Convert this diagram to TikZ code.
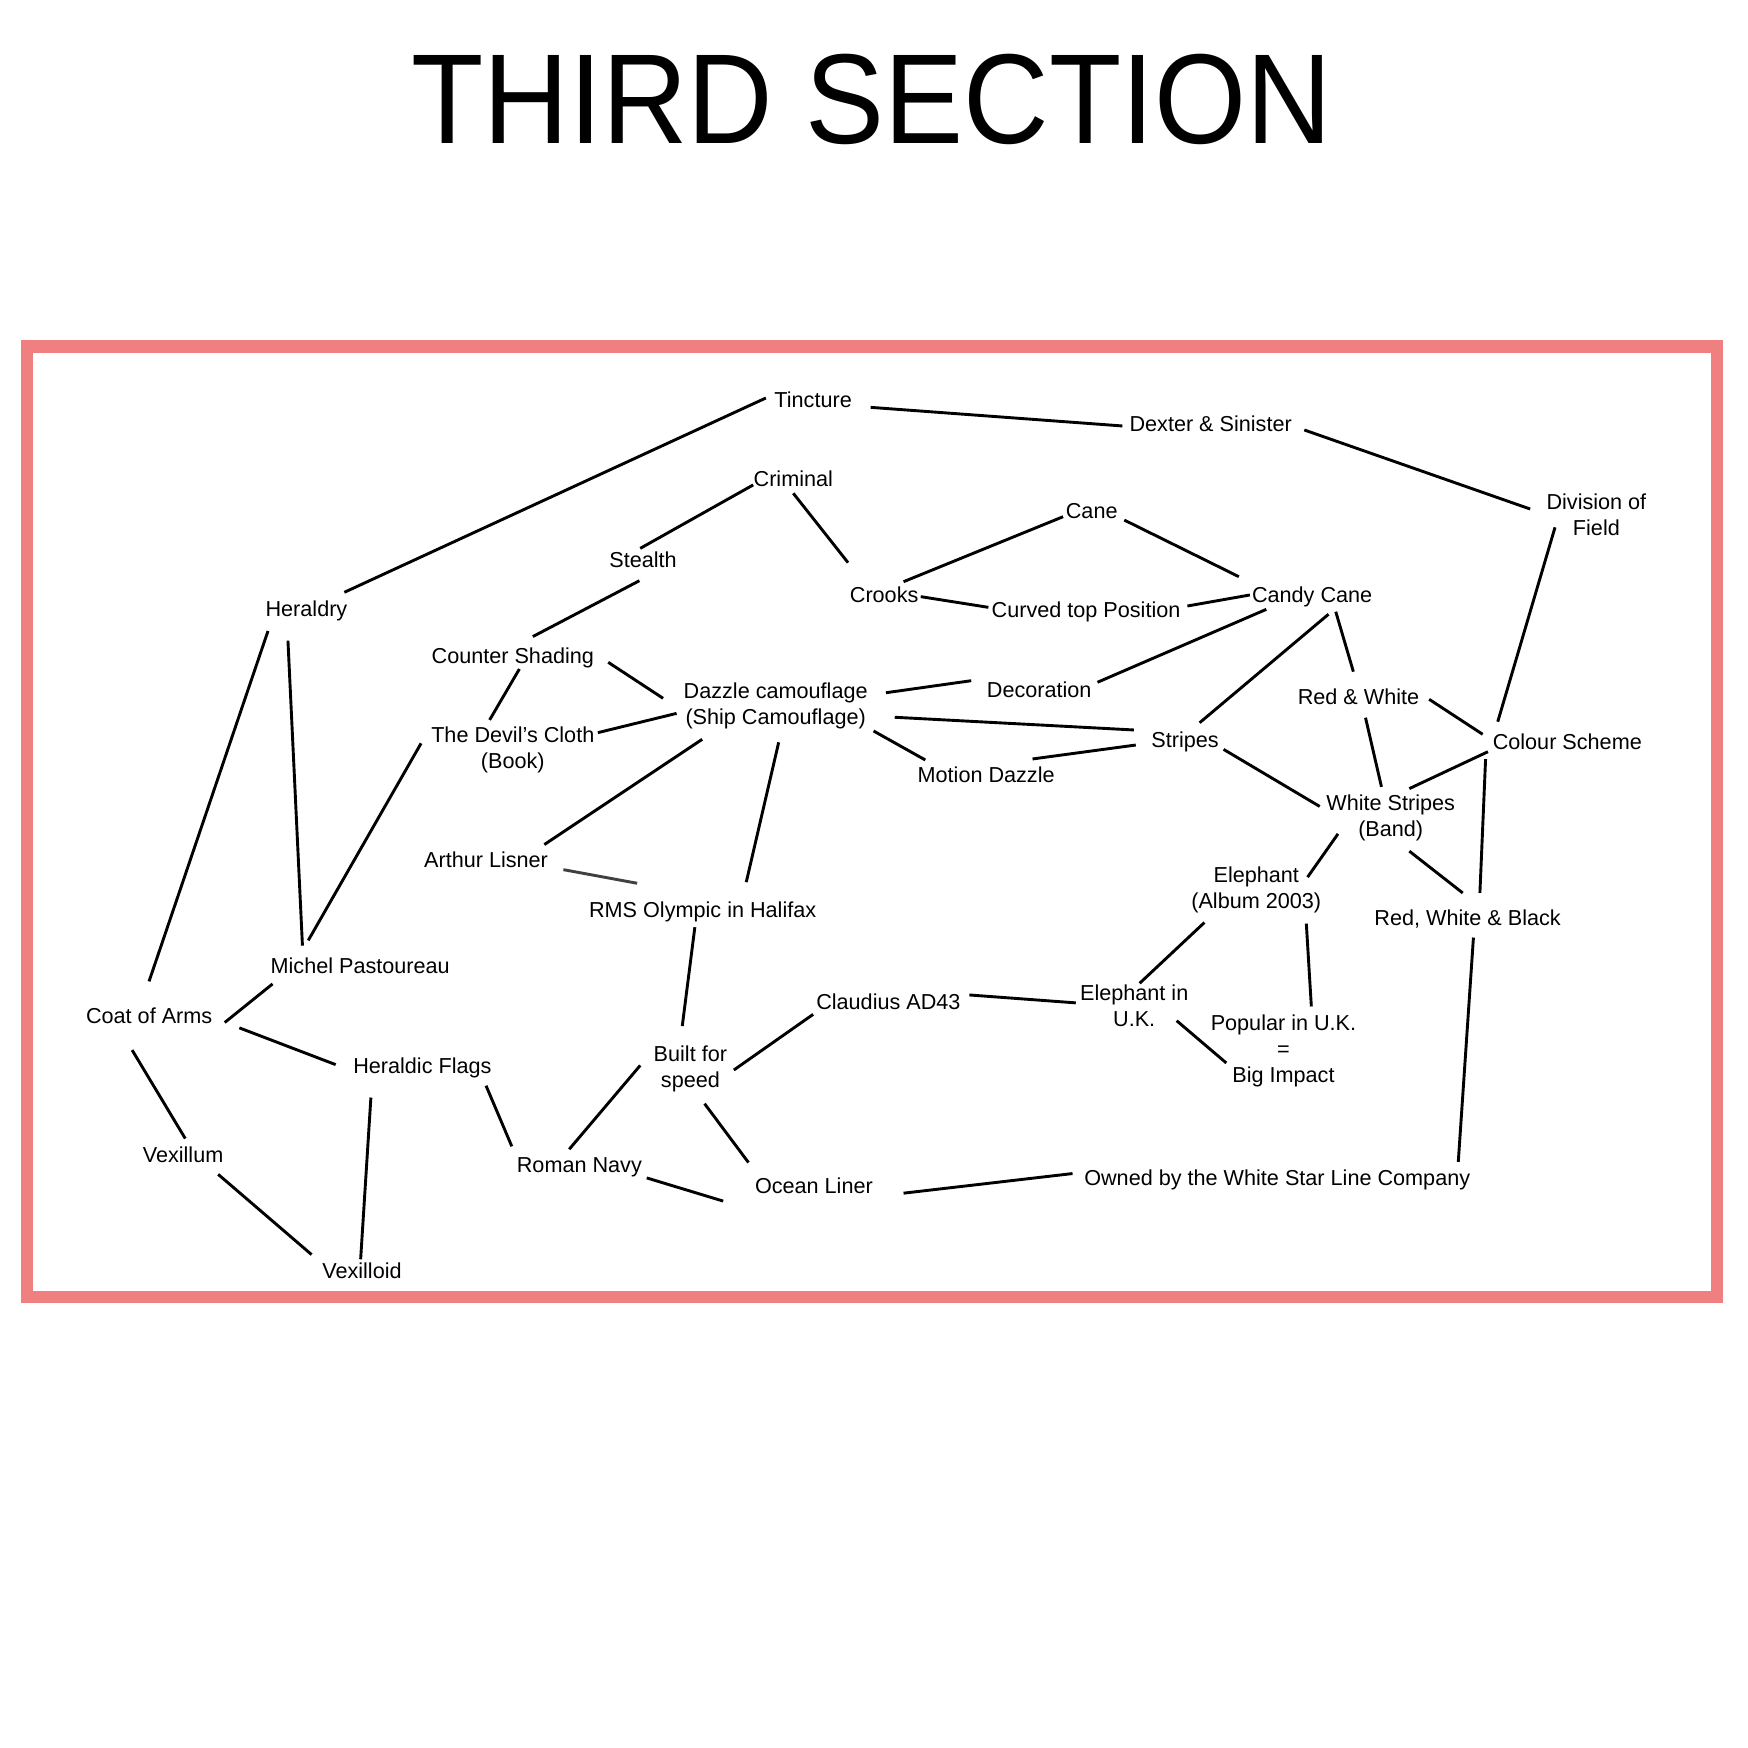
\documentclass[tikz,border=0pt]{standalone}
\usepackage{fontspec}
\setmainfont{Liberation Sans}
\usetikzlibrary{calc}
\definecolor{framered}{RGB}{240,128,128}
\definecolor{linegray}{RGB}{64,64,64}
\begin{document}
\begin{tikzpicture}[x=1pt,y=-1pt,
  lbl/.style={font=\fontsize{19.4}{23.3}\selectfont, align=center, inner sep=0pt},
  sl/.style={lbl, text height=14pt, text depth=0pt},
  ln/.style={line width=2.6pt, black},
  lngray/.style={line width=2.6pt, linegray}]
\useasboundingbox (0,0) rectangle (1568,1568);
\fill[white] (0,0) rectangle (1568,1568);
\node[anchor=base, inner sep=0pt, font=\fontsize{114.8}{120}\selectfont] (title) at (782,129) {\scalebox{0.925}[1]{THIRD SECTION}};
\draw[framered, line width=11pt] (24.5,310.7) rectangle (1540,1163.5);

\node[sl] (tin) at (729.4,358.8) {Tincture};
\node[sl] (dex) at (1086,379.7) {Dexter \& Sinister};
\node[sl] (cri) at (711.6,429.7) {Criminal};
\node[lbl] (div) at (1432,462) {Division of\\Field};
\node[sl] (cane) at (979.3,458.4) {Cane};
\node[sl] (ste) at (576.8,502.3) {Stealth};
\node[sl] (cro) at (793.1,533.1) {Crooks};
\node[sl] (cc) at (1177,533.7) {Candy Cane};
\node[sl] (her) at (274.9,545.7) {Heraldry};
\node[sl] (cur) at (974.2,547.2) {Curved top Position};
\node[sl] (cs) at (460,588.5) {Counter Shading};
\node[sl] (dec) at (932.2,618.3) {Decoration};
\node[lbl] (daz) at (695.8,633) {Dazzle camouflage\\(Ship Camouflage)};
\node[sl] (rw) at (1218.6,625) {Red \& White};
\node[lbl] (dev) at (460,672.6) {The Devil’s Cloth\\(Book)};
\node[sl] (str) at (1063,663.8) {Stripes};
\node[sl] (col) at (1405.9,665.3) {Colour Scheme};
\node[sl] (mot) at (884.6,695.2) {Motion Dazzle};
\node[lbl] (ws) at (1247.5,734) {White Stripes\\(Band)};
\node[sl] (art) at (436,770.8) {Arthur Lisner};
\node[lbl] (ele) at (1126.9,798.5) {Elephant\\(Album 2003)};
\node[sl] (rms) at (630.3,815.6) {RMS Olympic in Halifax};
\node[sl] (rwb) at (1316.5,823.6) {Red, White \& Black};
\node[sl] (mic) at (323.1,866) {Michel Pastoureau};
\node[lbl] (euk) at (1017.4,902.6) {Elephant in\\U.K.};
\node[sl] (cla) at (796.9,898.9) {Claudius AD43};
\node[sl] (coa) at (133.8,910.8) {Coat of Arms};
\node[lbl] (pop) at (1151.3,943) {Popular in U.K.\\=\\Big Impact};
\node[lbl] (bui) at (619.3,958.4) {Built for\\speed};
\node[sl] (hf) at (378.9,956.3) {Heraldic Flags};
\node[sl] (vxm) at (164.2,1035.7) {Vexillum};
\node[sl] (rom) at (519.7,1044.7) {Roman Navy};
\node[sl] (own) at (1145.7,1056.6) {Owned by the White Star Line Company};
\node[sl] (oce) at (730.1,1063.6) {Ocean Liner};
\node[sl] (vxd) at (324.7,1139.9) {Vexilloid};

\draw[ln] ($(her)+(34,-14.4)$) -- ($(tin)+(-42.4,-1.8)$);
\draw[ln] ($(tin)+(51.6,6.6)$) -- ($(dex)+(-79.2,2.4)$);
\draw[ln] ($(dex)+(84,6)$) -- ($(div)+(-59.4,-5.4)$);
\draw[ln] ($(cri)+(-36,5.3)$) -- ($(ste)+(-2.5,-10.4)$);
\draw[ln] ($(cri)+(0,12.8)$) -- ($(cro)+(-32.4,-28.4)$);
\draw[ln] ($(cro)+(17.4,-11.3)$) -- ($(cane)+(-25.7,5.1)$);
\draw[ln] ($(cane)+(29.2,8.1)$) -- ($(cc)+(-65.7,-16.4)$);
\draw[ln] ($(cro)+(32.8,2.1)$) -- ($(cur)+(-87.6,-2.4)$);
\draw[ln] ($(cur)+(90.9,-3.6)$) -- ($(cc)+(-55.8,0)$);
\draw[ln] ($(ste)+(-3.2,18.6)$) -- ($(cs)+(18,-17.5)$);
\draw[ln] ($(div)+(-37.1,11)$) -- ($(col)+(-62.4,-17.9)$);
\draw[ln] ($(dec)+(52.3,-6.3)$) -- ($(cc)+(-41.1,12.9)$);
\draw[ln] ($(str)+(13.1,-15.5)$) -- ($(cc)+(14.7,17.3)$);
\draw[ln] ($(cc)+(21.2,15)$) -- ($(rw)+(-4.6,-22.5)$);
\draw[ln] ($(rw)+(63.4,2.3)$) -- ($(col)+(-75.9,-6.6)$);
\draw[ln] ($(rw)+(6.3,18.8)$) -- ($(ws)+(-8.3,-28.2)$);
\draw[ln] ($(col)+(-71.2,9)$) -- ($(ws)+(16.7,-26.6)$);
\draw[ln] ($(col)+(-73.3,15.6)$) -- ($(rwb)+(11,-22.6)$);
\draw[ln] ($(str)+(34.6,8.4)$) -- ($(ws)+(-63.7,-10.6)$);
\draw[ln] ($(ws)+(16.7,29.5)$) -- ($(rwb)+(-4.4,-22.6)$);
\draw[ln] ($(ws)+(-47.3,14)$) -- ($(ele)+(46,-11.7)$);
\draw[ln] ($(cs)+(85.6,5.6)$) -- ($(daz)+(-101,-6.6)$);
\draw[ln] ($(cs)+(5.9,11.6)$) -- ($(dev)+(-20.8,-26.8)$);
\draw[ln] ($(her)+(-34.5,20.3)$) -- ($(coa)+(-0.1,-30.5)$);
\draw[ln] ($(her)+(-16.6,29)$) -- ($(mic)+(-51.8,-17.7)$);
\draw[ln] ($(dev)+(-82.3,-5.8)$) -- ($(mic)+(-46.6,-22.4)$);
\draw[ln] ($(dev)+(76.3,-15.4)$) -- ($(daz)+(-88.9,6.9)$);
\draw[ln] ($(daz)+(98.9,-11.6)$) -- ($(dec)+(-61,-7.7)$);
\draw[ln] ($(daz)+(106.8,10.4)$) -- ($(str)+(-45.9,-9)$);
\draw[ln] ($(daz)+(87.8,22.7)$) -- ($(mot)+(-54.6,-13.5)$);
\draw[ln] ($(mot)+(41.6,-14.4)$) -- ($(str)+(-44.2,4.5)$);
\draw[ln] ($(daz)+(-65.9,30.2)$) -- ($(art)+(52.3,-13.2)$);
\draw[ln] ($(daz)+(2.7,32.9)$) -- ($(rms)+(39.1,-24.3)$);
\draw[lngray] ($(art)+(69.4,9.3)$) -- ($(rms)+(-58.8,-23.3)$);
\draw[ln] ($(rms)+(-7,16.1)$) -- ($(bui)+(-7.3,-38)$);
\draw[ln] ($(mic)+(-78.6,16.6)$) -- ($(coa)+(67.8,6.4)$);
\draw[ln] ($(coa)+(80.9,11.2)$) -- ($(hf)+(-77.8,-1.3)$);
\draw[ln] ($(coa)+(-15.3,31.1)$) -- ($(vxm)+(2,-14.4)$);
\draw[ln] ($(vxm)+(31.5,17.7)$) -- ($(vxd)+(-45.2,-14.5)$);
\draw[ln] ($(hf)+(-46.2,28.2)$) -- ($(vxd)+(-1.2,-10.3)$);
\draw[ln] ($(hf)+(57.1,17.6)$) -- ($(rom)+(-60.6,-16.4)$);
\draw[ln] ($(rom)+(-9.1,-13.8)$) -- ($(bui)+(-45,-2.7)$);
\draw[ln] ($(bui)+(39,1.4)$) -- ($(cla)+(-67.5,11)$);
\draw[ln] ($(bui)+(12.7,31.6)$) -- ($(oce)+(-58.7,-20.8)$);
\draw[ln] ($(rom)+(60.4,11.9)$) -- ($(oce)+(-81.4,13.8)$);
\draw[ln] ($(oce)+(80.4,6.7)$) -- ($(own)+(-183.6,-3.9)$);
\draw[ln] ($(cla)+(72.6,-6.4)$) -- ($(euk)+(-52.4,-3)$);
\draw[ln] ($(ele)+(-46.5,29)$) -- ($(euk)+(4.9,-20.6)$);
\draw[ln] ($(ele)+(44.9,30)$) -- ($(pop)+(25,-40.2)$);
\draw[ln] ($(euk)+(38.1,13)$) -- ($(pop)+(-51.3,10.5)$);
\draw[ln] ($(rwb)+(5.2,17.4)$) -- ($(own)+(162.4,-14.4)$);
\end{tikzpicture}
\end{document}
